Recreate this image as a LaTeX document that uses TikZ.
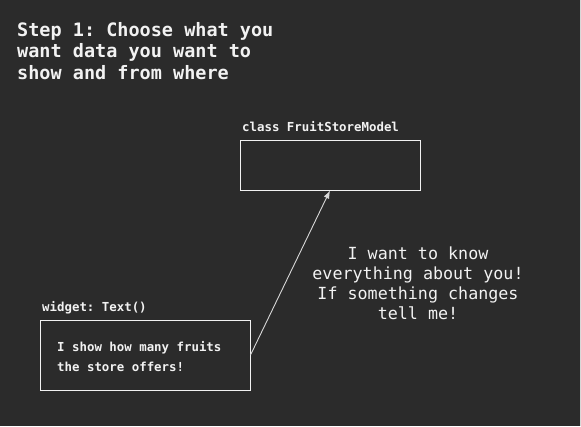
\documentclass[tikz,border=0pt]{standalone}
\usepackage{fontspec}
\setmonofont{DejaVu Sans Mono}
\usetikzlibrary{arrows.meta}
\definecolor{bg}{HTML}{2B2B2B}
\definecolor{fg}{HTML}{F2F2F2}
\definecolor{ln}{HTML}{D8D8D8}
\begin{document}
\begin{tikzpicture}[x=1pt,y=-1pt,
  txt/.style={inner sep=0pt,text=fg,font=\ttfamily\bfseries\fontsize{12.4}{20}\selectfont},
  boxx/.style={draw=fg,line width=1pt,inner sep=0pt},
  arr/.style={draw=ln,line width=0.9pt,-{Latex[length=8pt,width=6pt]}}]
\fill[bg] (0,0) rectangle (581,426);
\useasboundingbox (0,0) rectangle (581,426);
\draw[ln,line width=1pt] (580.5,0) -- (580.5,426);
\node[txt,anchor=north west,align=left,font=\ttfamily\bfseries\fontsize{18.5}{21.5}\selectfont] (title) at (17,22)
  {Step 1: Choose what you\\want data you want to\\show and from where};
\node[txt,anchor=base west] (lbl1) at (242,131) {class FruitStoreModel};
\node[boxx,minimum width=180pt,minimum height=50pt] (box1) at (330,165) {};
\node[txt,anchor=base west] (lbl2) at (42,311) {widget: Text()};
\node[boxx,minimum width=210pt,minimum height=70pt] (box2) at (145,355) {};
\node[txt,anchor=north west,align=left] (inner) at (57,341.5)
  {I show how many fruits\\the store offers!};
\node[inner sep=0pt,text=fg,anchor=north,align=center,font=\ttfamily\fontsize{16.7}{20}\selectfont] (note) at (418,247)
  {I want to know\\everything about you!\\If something changes\\tell me!};
\draw[arr] (box2.east) -- (box1.south);
\end{tikzpicture}
\end{document}
